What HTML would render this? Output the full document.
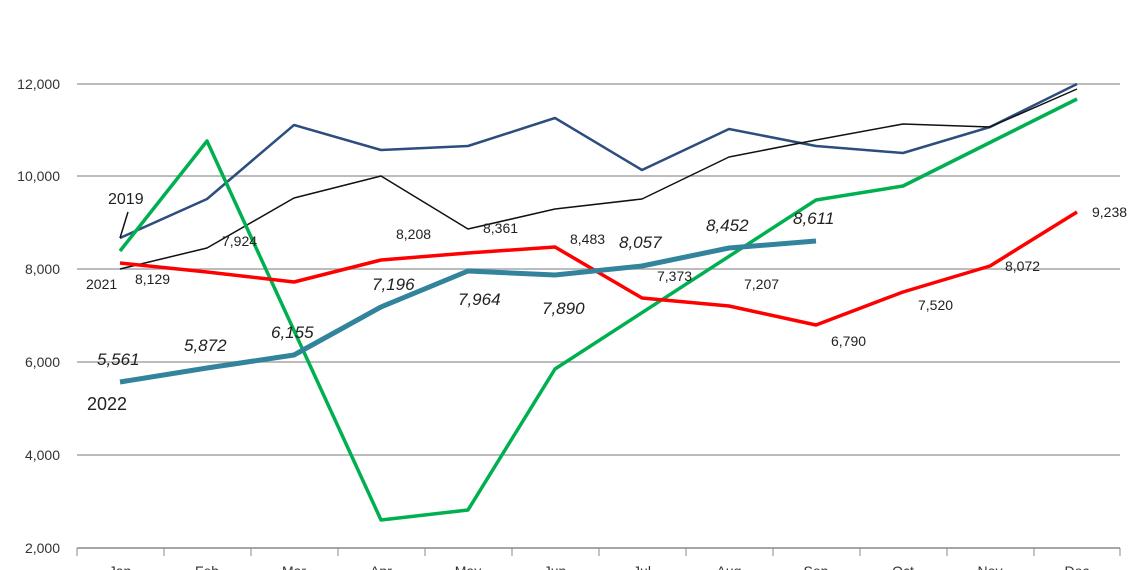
<!DOCTYPE html>
<html><head><style>body{margin:0;background:#fff}svg{display:block}text{font-family:"Liberation Sans",sans-serif}</style></head><body>
<svg width="1140" height="570" viewBox="0 0 1140 570">
<g stroke="#a6a6a6" stroke-width="1.5">
<line x1="77" y1="84" x2="1120" y2="84"/><line x1="77" y1="176" x2="1120" y2="176"/>
<line x1="77" y1="269" x2="1120" y2="269"/><line x1="77" y1="362" x2="1120" y2="362"/>
<line x1="77" y1="455" x2="1120" y2="455"/><line x1="77" y1="548" x2="1120" y2="548" stroke="#888"/>
</g>
<g stroke="#888" stroke-width="1">
<line x1="77" y1="548" x2="77" y2="556"/><line x1="164" y1="548" x2="164" y2="556"/><line x1="251" y1="548" x2="251" y2="556"/><line x1="338" y1="548" x2="338" y2="556"/><line x1="425" y1="548" x2="425" y2="556"/><line x1="512" y1="548" x2="512" y2="556"/><line x1="599" y1="548" x2="599" y2="556"/><line x1="686" y1="548" x2="686" y2="556"/><line x1="773" y1="548" x2="773" y2="556"/><line x1="860" y1="548" x2="860" y2="556"/><line x1="947" y1="548" x2="947" y2="556"/><line x1="1034" y1="548" x2="1034" y2="556"/><line x1="1120" y1="548" x2="1120" y2="556"/>
</g>
<g font-size="14" fill="#333" text-anchor="end">
<text x="60" y="89">12,000</text><text x="60" y="181">10,000</text><text x="60" y="274">8,000</text><text x="60" y="367">6,000</text><text x="60" y="460">4,000</text><text x="60" y="553">2,000</text>
</g>
<g font-size="14" fill="#333" text-anchor="middle">
<text x="120" y="576">Jan</text><text x="207" y="576">Feb</text><text x="294" y="576">Mar</text><text x="381" y="576">Apr</text><text x="468" y="576">May</text><text x="555" y="576">Jun</text><text x="642" y="576">Jul</text><text x="729" y="576">Aug</text><text x="816" y="576">Sep</text><text x="903" y="576">Oct</text><text x="990" y="576">Nov</text><text x="1077" y="576">Dec</text>
</g>
<g fill="none" stroke-linejoin="round">
<polyline stroke="#2c4d7e" stroke-width="2.5" points="120,238 207,199 294,125 381,150 468,146 555,118 642,170 729,129 816,146 903,153 990,127 1077,84"/>
<polyline stroke="#111" stroke-width="1.5" points="120,269 207,248 294,198 381,176 468,229 555,209 642,199 729,157 816,140 903,124 990,127 1077,89"/>
<polyline stroke="#00b050" stroke-width="3.5" points="120,251 207,141 381,520 468,510 555,369 816,200 903,186 1077,99"/>
<polyline stroke="#ff0000" stroke-width="3.5" points="120,263 207,272 294,282 381,260 468,253 555,247 642,298 729,306 816,325 903,292 990,266 1077,212"/>
<polyline stroke="#31849b" stroke-width="5" points="120,382 207,368 294,355 381,307 468,271 555,275 642,266 729,248 816,241"/>
<line x1="120" y1="238" x2="128" y2="212" stroke="#111" stroke-width="1.5"/>
</g>
<g font-size="14" fill="#222">
<text x="108" y="204" font-size="16">2019</text>
<text x="86" y="289">2021</text>
<text x="135" y="284">8,129</text>
<text x="222" y="246">7,924</text>
<text x="396" y="239">8,208</text>
<text x="483" y="233">8,361</text>
<text x="570" y="244">8,483</text>
<text x="657" y="281">7,373</text>
<text x="744" y="289">7,207</text>
<text x="831" y="346">6,790</text>
<text x="918" y="310">7,520</text>
<text x="1005" y="271">8,072</text>
<text x="1092" y="217">9,238</text>
<text x="87" y="410" font-size="18">2022</text>
</g>
<g font-size="17" font-style="italic" fill="#222">
<text x="97" y="365">5,561</text><text x="184" y="351">5,872</text><text x="271" y="338">6,155</text>
<text x="372" y="290">7,196</text><text x="458" y="305">7,964</text><text x="542" y="314">7,890</text>
<text x="619" y="248">8,057</text><text x="706" y="231">8,452</text><text x="793" y="224">8,611</text>
</g>
</svg>
</body></html>
